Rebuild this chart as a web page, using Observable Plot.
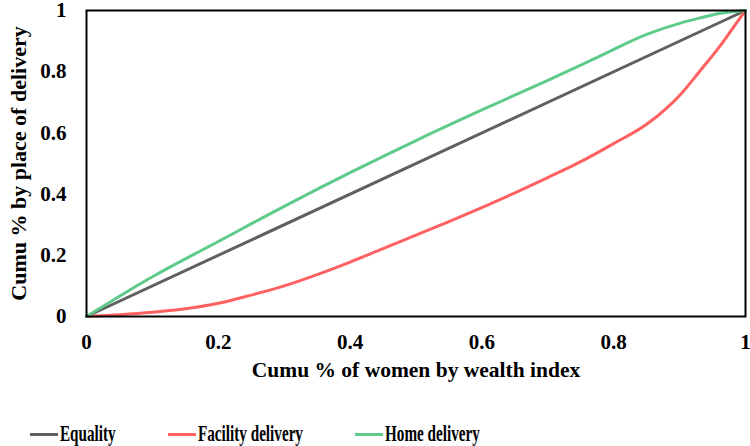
<!DOCTYPE html>
<html>
<head>
<meta charset="utf-8">
<script src="https://cdn.jsdelivr.net/npm/d3@7"></script>
<script src="https://cdn.jsdelivr.net/npm/@observablehq/plot@0.6"></script>
<style>
  body { margin: 0; background: #fff; font-family: "Liberation Serif", "Times New Roman", serif; }
  #wrap { position: relative; width: 750px; height: 446px; }
  .legend { position: absolute; top: 420px; left: 0; width: 750px; height: 28px; }
  .item { position: absolute; top: 0; display: flex; align-items: center; height: 28px; }
  .sw { width: 28px; height: 3px; margin-right: 2px; }
  .lab { font-weight: bold; font-size: 23px; transform: scaleX(0.66); transform-origin: left center; white-space: nowrap; color: #000; }
</style>
</head>
<body>
<div id="wrap"></div>
<script>
const seriesNames = ["Equality", "Facility delivery", "Home delivery"];
const seriesColors = ["#606060", "#ff6161", "#5fcb8a"];

const equalityX = [0, 1];
const equalityY = [0, 1];

const facilityX = [0, 0.05, 0.1, 0.15, 0.2, 0.25, 0.3, 0.35, 0.4, 0.45, 0.5, 0.55, 0.6, 0.65, 0.7, 0.75, 0.8, 0.85, 0.88, 0.9, 0.93, 0.96, 0.98, 1];
const facilityY = [0, 0.006, 0.014, 0.025, 0.043, 0.07, 0.1, 0.137, 0.178, 0.222, 0.266, 0.31, 0.356, 0.404, 0.454, 0.506, 0.565, 0.628, 0.68, 0.722, 0.8, 0.88, 0.94, 1];

const homeX = [0, 0.1, 0.2, 0.3, 0.4, 0.5, 0.6, 0.7, 0.78, 0.85, 0.9, 0.93, 0.96, 1];
const homeY = [0, 0.13, 0.245, 0.36, 0.47, 0.575, 0.675, 0.772, 0.852, 0.922, 0.958, 0.975, 0.99, 1];

const xTicks = [0, 0.2, 0.4, 0.6, 0.8, 1];
const yTicks = [0, 0.2, 0.4, 0.6, 0.8, 1];
const tickLabels = ["0", "0.2", "0.4", "0.6", "0.8", "1"];

const toRows = (xs, ys, s) => xs.map((x, i) => ({x, y: ys[i], s}));
const data = [
  ...toRows(equalityX, equalityY, seriesNames[0]),
  ...toRows(facilityX, facilityY, seriesNames[1]),
  ...toRows(homeX, homeY, seriesNames[2])
];

const chart = Plot.plot({
  width: 750,
  height: 400,
  marginTop: 10,
  marginBottom: 84,
  marginLeft: 86,
  marginRight: 5,
  style: { fontFamily: "Liberation Serif, Times New Roman, serif", fontWeight: "bold", fontSize: "21px", color: "#000", background: "#fff", overflow: "visible" },
  x: { domain: [0, 1], ticks: xTicks, tickFormat: (d, i) => tickLabels[i], tickSize: 0, tickPadding: 18, label: null },
  y: { domain: [0, 1], ticks: yTicks, tickFormat: (d, i) => tickLabels[i], tickSize: 0, tickPadding: 20, label: null },
  color: { domain: seriesNames, range: seriesColors },
  marks: [
    Plot.line(data, { x: "x", y: "y", z: "s", stroke: "s", strokeWidth: 3, curve: "monotone-x" }),
    Plot.frame({ stroke: "#000", strokeWidth: 2 }),
    Plot.text(["Cumu % of women by wealth index"], { frameAnchor: "bottom", dy: 60, fontSize: 21.5, fontWeight: "bold", fill: "#000" }),
    Plot.text(["Cumu % by place of delivery"], { frameAnchor: "left", textAnchor: "middle", dx: -68, rotate: -90, fontSize: 22, fontWeight: "bold", fill: "#000" })
  ]
});

const wrap = document.getElementById("wrap");
wrap.appendChild(chart);

const legend = document.createElement("div");
legend.className = "legend";
const lefts = [30, 168, 355];
seriesNames.forEach((n, i) => {
  const it = document.createElement("div");
  it.className = "item";
  it.style.left = lefts[i] + "px";
  const sw = document.createElement("div");
  sw.className = "sw";
  sw.style.background = seriesColors[i];
  const lab = document.createElement("span");
  lab.className = "lab";
  lab.textContent = n;
  it.appendChild(sw);
  it.appendChild(lab);
  legend.appendChild(it);
});
wrap.appendChild(legend);
</script>
</body>
</html>
